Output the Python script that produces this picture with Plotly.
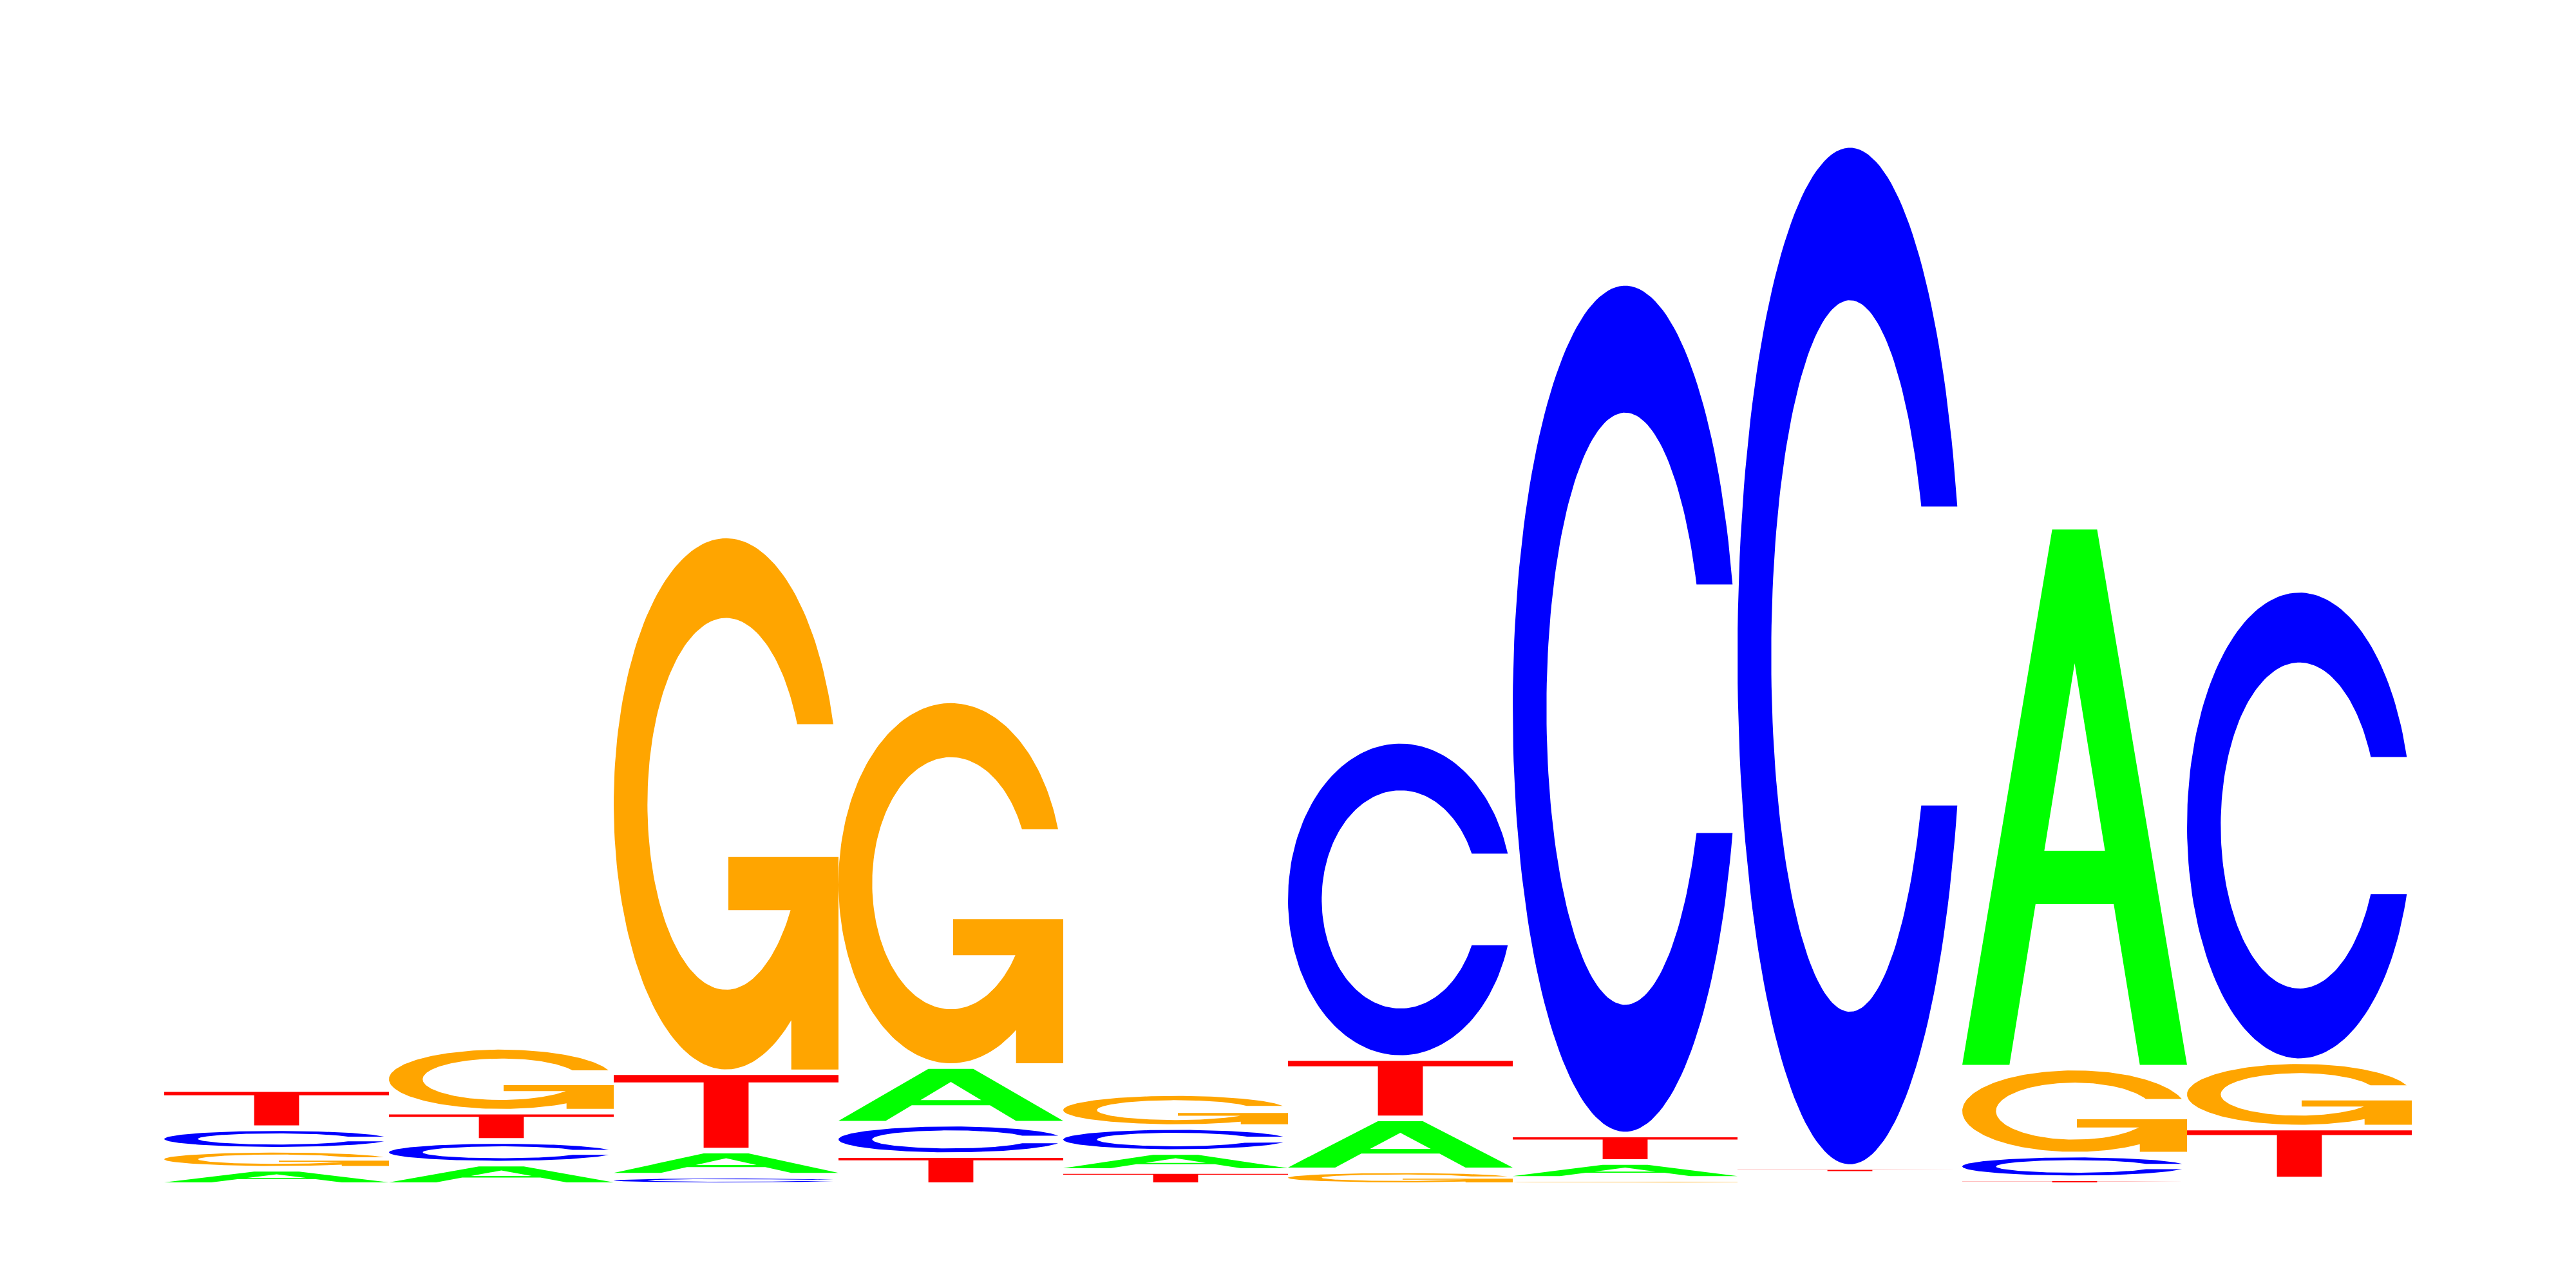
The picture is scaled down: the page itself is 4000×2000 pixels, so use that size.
import numpy as np
import plotly.graph_objects as go

# Sequence logo, 10 positions, letter heights in bits
positions = [1, 2, 3, 4, 5, 6, 7, 8, 9, 10]
bits_A = [0.021, 0.031, 0.038, 0.101, 0.026, 0.090, 0.022, 0.000, 1.039, 0.000]
bits_C = [0.031, 0.033, 0.0075, 0.050, 0.0375, 0.605, 1.642, 1.973, 0.035, 0.904]
bits_G = [0.026, 0.115, 1.031, 0.699, 0.055, 0.018, 0.0012, 0.000, 0.158, 0.118]
bits_T = [0.065, 0.046, 0.141, 0.0475, 0.0166, 0.106, 0.0425, 0.0025, 0.0025, 0.090]

COLORS = {"A": "#00FF00", "C": "#0000FF", "G": "#FFA500", "T": "#FF0000"}
GAP = 0.0109  # white space left on top of every letter


def arc(cx, cy, rx, ry, a0, a1, n=160):
    t = np.radians(np.linspace(a0, a1, n))
    return list(zip(cx + rx * np.cos(t), cy + ry * np.sin(t)))


def glyph(letter):
    # outline in a unit box (x 0..1, y 0..1)
    if letter == "T":
        return [(0, 1), (1, 1), (1, 0.9), (0.6, 0.9), (0.6, 0), (0.4, 0),
                (0.4, 0.9), (0, 0.9), (0, 1)]
    if letter == "A":
        outer = [(0, 0), (0.4, 1), (0.6, 1), (1, 0), (0.79, 0), (0.674, 0.30),
                 (0.326, 0.30), (0.21, 0), (0, 0)]
        hole = [(0.365, 0.40), (0.635, 0.40), (0.5, 0.75), (0.365, 0.40)]
        # slit into the counter, drawn the other way round so it stays empty
        return outer + hole + [(0, 0)]
    ro, ri = 0.5, 0.35
    if letter == "C":
        ao = np.degrees(np.arcsin(0.147 / ro))
        ai = np.degrees(np.arcsin(0.147 / ri))
        pts = arc(0.5, 0.5, ro, ro, ao, 360 - ao)
        pts += arc(0.5, 0.5, ri, ri, 360 - ai, ai)
        return pts + [pts[0]]
    # G
    ao = np.degrees(np.arcsin(0.15 / ro))
    ai = np.degrees(np.arcsin(0.15 / ri))
    a2 = 360 - np.degrees(np.arccos(0.29 / ro))
    b2 = 360 - np.degrees(np.arccos(0.29 / ri))
    pts = arc(0.5, 0.5, ro, ro, ao, a2)
    pts += [(0.79, 0), (1.0, 0), (1.0, 0.40), (0.51, 0.40), (0.51, 0.30), (0.79, 0.30)]
    pts += arc(0.5, 0.5, ri, ri, b2, ai)
    return pts + [pts[0]]


fig = go.Figure()

for i, pos in enumerate(positions):
    col = {"A": bits_A[i], "C": bits_C[i], "G": bits_G[i], "T": bits_T[i]}
    base = 0.0
    for letter, h in sorted(col.items(), key=lambda kv: kv[1]):
        if h > 0:
            shape = glyph(letter)
            xs = [pos - 0.5 + u for u, v in shape]
            ys = [base + v * h for u, v in shape]
            fig.add_trace(go.Scatter(
                x=xs, y=ys, mode="lines", fill="toself",
                fillcolor=COLORS[letter], line=dict(width=0, color=COLORS[letter]),
                hoverinfo="skip", showlegend=False))
        base += h + GAP

# page body keeps an 8px margin, so the figure is 16px smaller and shifted
fig.update_layout(
    width=3984, height=1984, autosize=False,
    margin=dict(l=247, r=247, t=28, b=156),
    paper_bgcolor="white", plot_bgcolor="white",
    xaxis=dict(visible=False, range=[0.5, 10.5]),
    yaxis=dict(visible=False, range=[0, 2.25]),
    showlegend=False,
)

fig.write_html("out.html")
